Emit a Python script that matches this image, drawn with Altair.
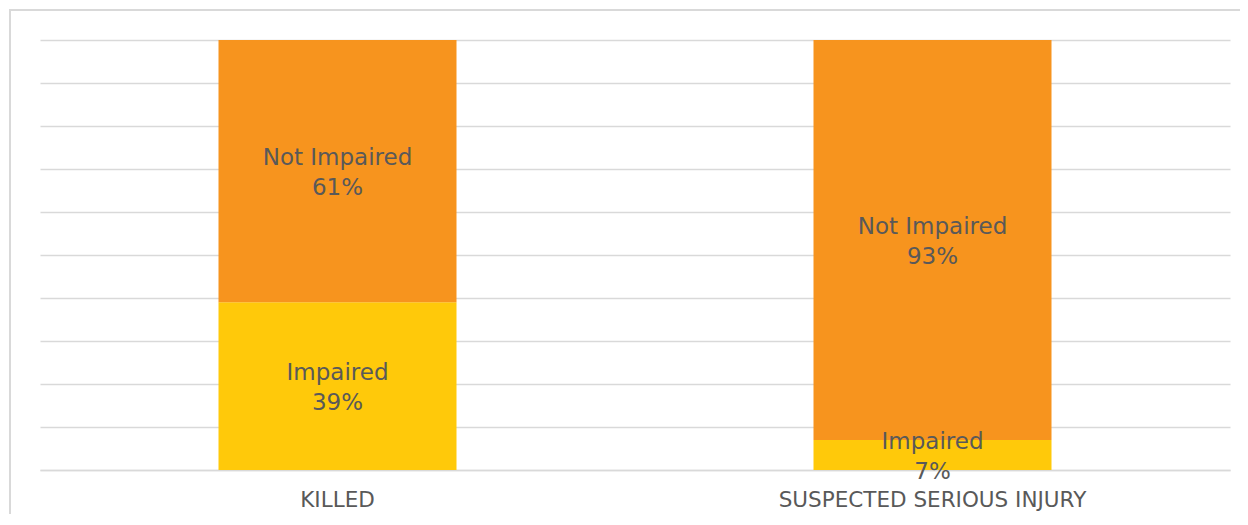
import altair as alt
import pandas as pd

categories = ["KILLED", "SUSPECTED SERIOUS INJURY"]
statuses = ["Impaired", "Not Impaired"]
impaired = [39, 7]
not_impaired = [61, 93]

rows = []
for i, c in enumerate(categories):
    for s, vals in zip(statuses, [impaired, not_impaired]):
        rows.append({"category": c, "status": s, "value": vals[i],
                     "order": statuses.index(s),
                     "label": f"{s}\n{vals[i]}%"})
df = pd.DataFrame(rows)

FONT = "DejaVu Sans"
TXT = "#595959"

base = alt.Chart(df).transform_stack(
    stack="value", as_=["y0", "y1"], groupby=["category"],
    sort=[alt.SortField("order", order="ascending")]
).transform_calculate(mid="(datum.y0 + datum.y1) / 2")

xenc = alt.X("category:N", sort=categories, title=None,
             scale=alt.Scale(paddingInner=0.6, paddingOuter=0.3),
             axis=alt.Axis(labelAngle=0, ticks=False, domainColor="#d9d9d9",
                           domainWidth=1.5, labelFont=FONT, labelFontSize=21.5,
                           labelColor=TXT, labelPadding=19, labelLimit=0))

bars = base.mark_bar().encode(
    x=xenc,
    y=alt.Y("y0:Q", scale=alt.Scale(domain=[0, 100]), title=None,
            axis=alt.Axis(values=list(range(0, 101, 10)), labels=False,
                          ticks=False, domain=False, grid=True,
                          gridColor="#d9d9d9", gridWidth=1.5)),
    y2="y1:Q",
    color=alt.Color("status:N",
                    scale=alt.Scale(domain=statuses, range=["#FFC90A", "#F7941E"]),
                    legend=None),
)

labels = base.mark_text(font=FONT, fontSize=23, color=TXT, lineBreak="\n",
                        lineHeight=30, baseline="middle", align="center",
                        dy=-13).encode(
    x=alt.X("category:N", sort=categories),
    y="mid:Q",
    text="label:N",
)

frame = alt.Chart(df).mark_rect(fill=None, stroke="#d9d9d9", strokeWidth=2,
                                clip=False).encode(
    x=alt.value(-30), x2=alt.value(1209), y=alt.value(-30), y2=alt.value(520)
).transform_filter("datum.order == 0 && datum.category == 'KILLED'")

chart = alt.layer(frame, bars, labels).properties(
    width=1190, height=430,
    padding={"left": 32, "top": 32, "right": 10, "bottom": 44},
    autosize=alt.AutoSizeParams(type="none"),
    background="white",
).configure_view(stroke=None)

chart.save("out.html", embed_options={"renderer": "svg", "actions": False})
